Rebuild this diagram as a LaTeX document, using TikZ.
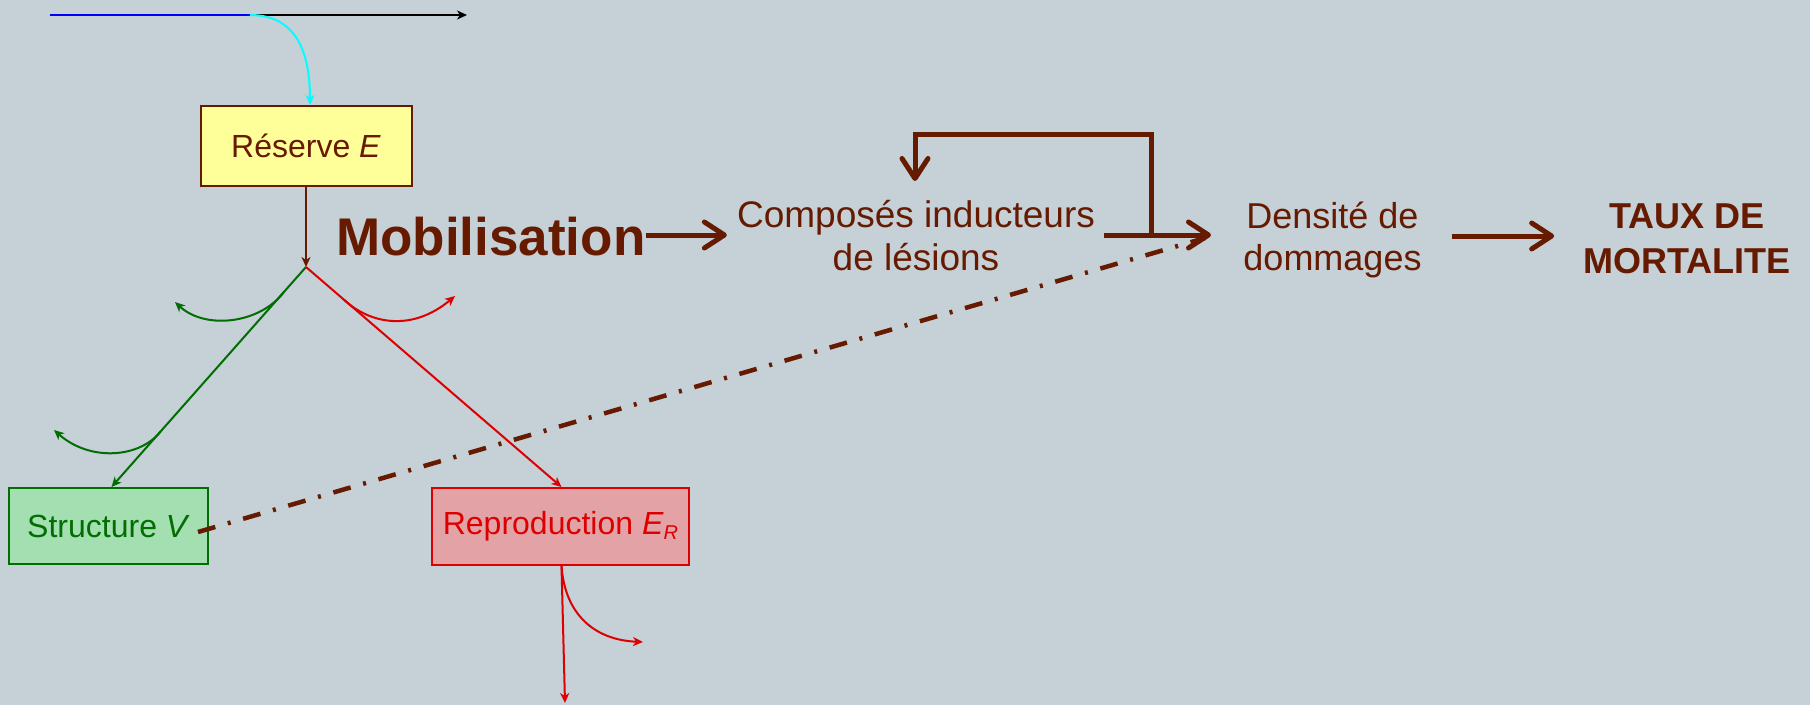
\documentclass[tikz,border=0pt]{standalone}
\usepackage{fontspec}
\setmainfont{Liberation Sans}
\usetikzlibrary{arrows.meta,calc}
\definecolor{bg}{HTML}{C5D0D7}
\definecolor{brn}{HTML}{661A00}
\definecolor{dgreen}{HTML}{006E00}
\definecolor{rred}{HTML}{DD0000}
\definecolor{yfill}{HTML}{FFFF99}
\definecolor{gfill}{HTML}{A3DFB0}
\definecolor{rfill}{HTML}{E3A3A6}
\definecolor{cyanline}{HTML}{00FFFF}
\definecolor{blueline}{HTML}{0000FF}
\begin{document}
\begin{tikzpicture}[x=1pt,y=-1pt,
  box/.style={draw,line width=2pt,inner sep=0pt},
  thinarrow/.style={line width=2pt,-{Stealth[length=10pt,width=9pt,inset=3pt]}},
  bigarrow/.style={line width=5pt,draw=brn,-{Straight Barb[length=20pt,width=26pt,round]}},
  txt/.style={text=brn,inner sep=0pt}]
\fill[bg] (0,0) rectangle (1810,705);
\useasboundingbox (0,0) rectangle (1810,705);

% boxes
\node[box,draw=brn,fill=yfill,minimum width=211pt,minimum height=80pt,
  font=\fontsize{32}{38}\selectfont,text=brn] (reserve) at (306,146) {Réserve \textit{E}};
\node[box,draw=dgreen,fill=gfill,minimum width=199pt,minimum height=76pt,
  font=\fontsize{32}{38}\selectfont,text=dgreen] (structure) at (108.5,526) {Structure \textit{V}};
\node[box,draw=rred,fill=rfill,minimum width=257pt,minimum height=77pt,
  font=\fontsize{32}{38}\selectfont,text=rred] (repro) at (560.5,526.5)
  {Reproduction \textit{E}\raisebox{-5pt}[0pt][0pt]{\fontsize{20}{20}\selectfont\textit{R}}};

% texts
\node[txt,font=\fontsize{53}{60}\selectfont\bfseries,anchor=base west] (mob) at (336,255) {Mobilisation};
\node[txt,font=\fontsize{37}{43}\selectfont,align=center,anchor=base] (comp) at (916,270) {Composés inducteurs\\de lésions};
\node[txt,font=\fontsize{36}{42}\selectfont,align=center,anchor=base] (dens) at (1332.5,270) {Densité de\\dommages};
\node[txt,font=\fontsize{36}{45}\selectfont\bfseries,align=center,anchor=base] (taux) at (1687,273) {TAUX DE\\MORTALITE};

% top line
\coordinate (src) at (50,15);
\coordinate (split) at (250,15);
\coordinate (out) at (467,15);
\draw[blueline,line width=2pt] (src) -- (split);
\draw[thinarrow,black] (split) -- (out);
\draw[thinarrow,cyanline] (split) .. controls (295,15) and (310,50) .. ([xshift=4pt]reserve.north);

% allocation
\coordinate (junc) at (306,267);
\draw[thinarrow,brn] (reserve.south) -- (junc);
\draw[thinarrow,dgreen] (junc) -- ([xshift=3pt]structure.north);
\draw[thinarrow,rred] (junc) -- ([xshift=1pt]repro.north);

\coordinate (g1s) at ($(junc)!0.113!([xshift=3pt]structure.north)$);
\coordinate (g1e) at (175,302);
\draw[thinarrow,dgreen] (g1s) .. controls (260,324) and (205,330) .. (g1e);
\coordinate (g2s) at ($(junc)!0.747!([xshift=3pt]structure.north)$);
\coordinate (g2e) at (54,430);
\draw[thinarrow,dgreen] (g2s) .. controls (140,458) and (90,462) .. (g2e);
\coordinate (r1s) at ($(junc)!0.149!([xshift=1pt]repro.north)$);
\coordinate (r1e) at (455,296);
\draw[thinarrow,rred] (r1s) .. controls (370,324) and (412,332) .. (r1e);

\coordinate (rdown) at (565,703);
\coordinate (rside) at (643,642);
\draw[thinarrow,rred] ([xshift=1pt]repro.south) -- (rdown);
\draw[thinarrow,rred] ([xshift=1pt]repro.south) .. controls (565,615) and (595,640) .. (rside);

% main chain
\coordinate (cR) at (1104,235);
\coordinate (dtip) at (1211,235);
\coordinate (loopS) at (1151,235);
\coordinate (loopT) at (915,181);
\draw[bigarrow] (mob.east |- 0,235) -- ([xshift=-10pt]comp.west |- 0,235);
\draw[bigarrow] (cR) -- (dtip);
\draw[bigarrow] (loopS) -- (loopS |- 0,134) -- (loopT |- 0,134) -- (loopT);
\draw[bigarrow] ([xshift=30pt]dens.east |- 0,236) -- ([xshift=-29pt]taux.west |- 0,236);

% dash-dot
\draw[brn,line width=4.5pt,dash pattern=on 18pt off 13pt on 3pt off 13pt]
  ($(structure.east)+(-11,6)$) -- ($(dtip)+(-6,3)$);
\end{tikzpicture}
\end{document}
